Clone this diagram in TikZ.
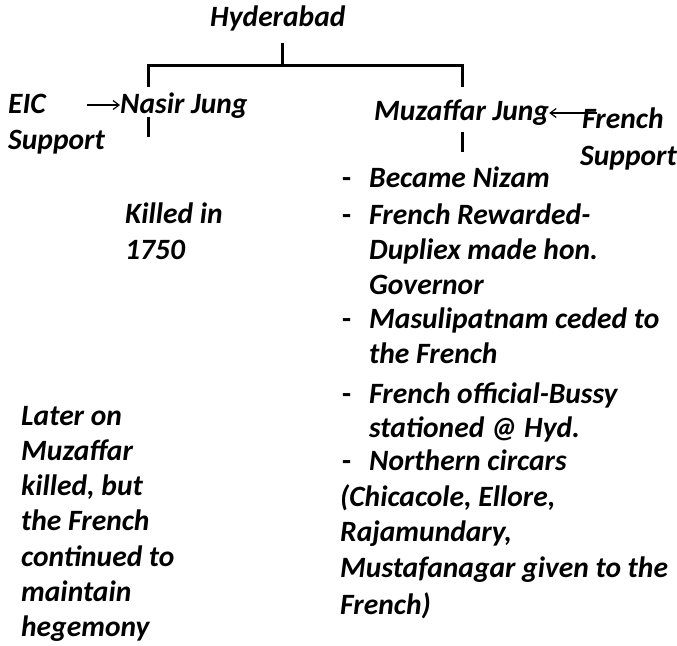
\documentclass[tikz,border=0pt]{standalone}
\usepackage{fontspec}
\setmainfont{Carlito}
\usetikzlibrary{arrows.meta}

\tikzset{
    lbl/.style={anchor=base west, inner sep=0pt, font=\fontsize{29.5}{35}\selectfont\bfseries\itshape},
    dsh/.style={anchor=base west, inner sep=0pt, font=\fontsize{29.5}{35}\selectfont\bfseries},
    tree/.style={line width=3pt},
    arr/.style={line width=1.2pt, -{Straight Barb[length=6pt, width=9pt]}}
}

\begin{document}
\begin{tikzpicture}[x=1pt, y=-1pt]

    \useasboundingbox (0,0) rectangle (677,645);

    \node(hyd)[lbl] at (210,27) {Hyderabad};

    \node(eic)[lbl] at (8,113) {EIC};
    \node(eicsup)[lbl] at (8,149) {Support};
    \node(nasir)[lbl] at (120,113) {Nasir Jung};

    \node(muz)[lbl] at (374,120) {Muzaffar Jung};
    \node(fre)[lbl] at (582,128) {French};
    \node(fresup)[lbl] at (580,165) {Support};

    \node(kill1)[lbl] at (125,223) {Killed in};
    \node(kill2)[lbl] at (125,259) {1750};

    % left column
    \foreach \t [count=\i from 0] in {Later on, Muzaffar, {killed, but}, the French, continued to, maintain, hegemony}
        \node(late\i)[lbl] at (21,425+35.3*\i) {\t};

    % right column
    \foreach \n/\y/\t in {1/187/Became Nizam, 2/224/French Rewarded-, 3/259/Dupliex made hon., 4/294/Governor,
        5/328/Masulipatnam ceded to, 6/363/the French, 7/403/French official-Bussy, 8/437/stationed @ Hyd.,
        9/470/Northern circars}
        \node(item\n)[lbl] at (369,\y) {\t};

    \foreach \n/\y/\t in {1/506/{(Chicacole, Ellore,}, 2/541/{Rajamundary,}, 3/577/Mustafanagar given to the, 4/614/French)}
        \node(circ\n)[lbl] at (340,\y) {\t};

    \foreach \y [count=\i] in {187,224,328,403,470}
        \node(dash\i)[dsh] at (342,\y) {-};

    % tree
    \coordinate(top) at (282,43);
    \coordinate(fork) at (282,65);
    \coordinate(nt) at (148,87);
    \coordinate(mt) at (462,87);
    \coordinate(nb1) at (148,117);
    \coordinate(nb2) at (148,137);
    \coordinate(mb1) at (462,132);
    \coordinate(mb2) at (462,152);

    \draw[tree] (top) -- (fork);
    \draw[tree] (nt) |- (fork) -| (mt);
    \draw[tree] (nb1) -- (nb2);
    \draw[tree] (mb1) -- (mb2);

    % support arrows
    \coordinate(eicarr) at (87,105);
    \coordinate(frarr) at (597,113);
    \draw[arr] (eicarr) -- (eicarr -| nasir.west);
    \draw[arr] (frarr) -- (frarr -| muz.east);

\end{tikzpicture}
\end{document}
